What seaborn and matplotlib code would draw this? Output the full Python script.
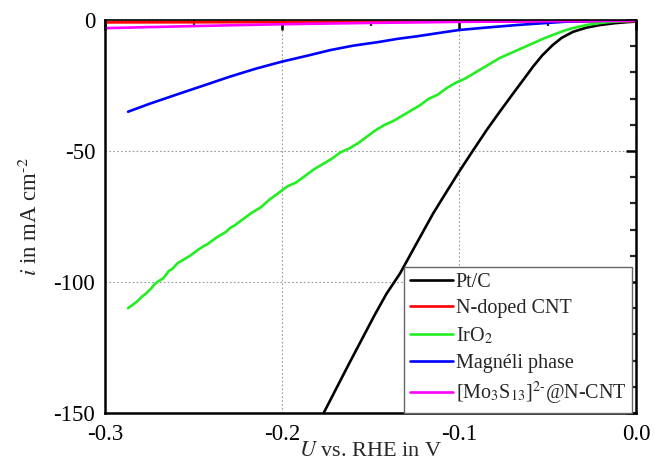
import numpy as np
import pandas as pd
import matplotlib
matplotlib.use("Agg")
import matplotlib.pyplot as plt
import seaborn as sns
from matplotlib.ticker import MultipleLocator
from matplotlib.lines import Line2D

# ---- data ----
labels = ["Pt/C", "N-doped CNT", "IrO$_2$", "Magnéli phase", "[Mo$_3$S$_{13}$]$^{2\\text{-}}$@N-CNT"]
colors = ["#000000", "#ff0000", "#22ee22", "#0000ff", "#ff00ff"]

ptc_u = [-0.178, -0.170, -0.162, -0.155, -0.148, -0.141, -0.1333, -0.125, -0.1146, -0.107,
         -0.0994, -0.092, -0.0844, -0.077, -0.0694, -0.063, -0.0582, -0.053, -0.047, -0.042,
         -0.0356, -0.028, -0.0203, -0.012, -0.005, 0.0]
ptc_i = [-152, -141.5, -131, -122, -113, -104.5, -96.7, -86.5, -73.8, -65.5,
         -57.3, -49.7, -42, -35, -28, -22.2, -17.8, -13.5, -9.5, -6.8,
         -4.5, -2.9, -1.9, -1.2, -0.8, -0.6]

ncnt_u = [-0.3, -0.2, -0.1, 0.0]
ncnt_i = [-0.9, -0.8, -0.6, -0.4]

iro2_u = [-0.287, -0.284, -0.282, -0.279, -0.277, -0.274, -0.272, -0.270, -0.267, -0.264,
          -0.262, -0.259, -0.257, -0.252, -0.247, -0.244, -0.242, -0.237, -0.232, -0.229,
          -0.227, -0.222, -0.217, -0.212, -0.207, -0.202, -0.197, -0.192, -0.187, -0.182,
          -0.177, -0.172, -0.167, -0.162, -0.157, -0.152, -0.147, -0.142, -0.137, -0.132,
          -0.127, -0.122, -0.117, -0.112, -0.107, -0.102, -0.097, -0.092, -0.087, -0.082,
          -0.077, -0.072, -0.067, -0.062, -0.057, -0.052, -0.047, -0.042, -0.037, -0.032,
          -0.027, -0.022, -0.017, -0.012, -0.007, 0.0]
iro2_i = [-110, -108.5, -107.5, -105.5, -104.5, -102.5, -100.8, -99.8, -98.5, -95.8,
          -95, -92.8, -92, -90, -87.5, -86.2, -85.5, -83, -81, -79.2,
          -78.5, -76, -73.5, -71.5, -68.5, -66, -63.5, -62, -59.5, -57,
          -55, -53, -50.5, -49, -47, -44.5, -42, -40, -38.5, -36.5,
          -34.5, -32.5, -30, -28.5, -26, -24, -22.5, -20.5, -18.5, -16.5,
          -14.5, -13, -11.5, -10, -8.5, -7, -5.7, -4.4, -3.3, -2.5,
          -1.8, -1.3, -0.9, -0.6, -0.4, -0.3]

magneli_u = [-0.287, -0.275, -0.2576, -0.243, -0.2294, -0.215, -0.2002, -0.185, -0.1729, -0.16,
             -0.1446, -0.135, -0.1237, -0.112, -0.1, -0.085, -0.0672, -0.05, -0.039, -0.02, 0.0]
magneli_i = [-35, -32, -28, -24.7, -21.6, -18.6, -15.9, -13.5, -11.5, -9.8,
             -8.3, -7.2, -6.2, -5.0, -3.8, -2.9, -1.9, -1.1, -0.6, -0.3, -0.2]

mo_u = [-0.3, -0.25, -0.2, -0.15, -0.1, -0.05, 0.0]
mo_i = [-3.1, -2.3, -1.6, -1.1, -0.7, -0.45, -0.3]

x_ticks = [-0.3, -0.2, -0.1, 0.0]
x_tick_labels = ["-0.3", "-0.2", "-0.1", "0.0"]
y_ticks = [-150, -100, -50, 0]
y_tick_labels = ["-150", "-100", "-50", "0"]

series = [(ptc_u, ptc_i), (ncnt_u, ncnt_i), (iro2_u, iro2_i), (magneli_u, magneli_i), (mo_u, mo_i)]
frames = []
for lab, (u, i) in zip(labels, series):
    frames.append(pd.DataFrame({"U": u, "i": i, "sample": lab}))
df = pd.concat(frames, ignore_index=True)

# ---- style ----
sns.set_theme(style="white")
plt.rcParams["font.family"] = ["Liberation Serif", "DejaVu Serif"]
plt.rcParams["mathtext.fontset"] = "stix"
plt.rcParams["axes.unicode_minus"] = False

fig = plt.figure(figsize=(6.54, 4.66), dpi=100)
ax = fig.add_axes([0.1606, 0.1137, 0.8119, 0.8433])

sns.lineplot(data=df, x="U", y="i", hue="sample", palette=dict(zip(labels, colors)),
             hue_order=labels, sort=False, estimator=None, linewidth=1.9, ax=ax, legend=False)

ax.set_xlim(-0.3, 0.0)
ax.set_ylim(-150, 0)
ax.set_xticks(x_ticks)
ax.set_xticklabels(x_tick_labels)
ax.set_yticks(y_ticks)
ax.set_yticklabels(y_tick_labels)
ax.xaxis.set_minor_locator(MultipleLocator(0.05))
ax.yaxis.set_minor_locator(MultipleLocator(10))

ax.grid(True, which="major", color="#999999", linestyle=(0, (1.5, 2)), linewidth=0.8)
for sp in ax.spines.values():
    sp.set_visible(True)
    sp.set_color("black")
    sp.set_linewidth(1.8)
ax.spines["top"].set_linewidth(1.2)

ax.tick_params(which="major", direction="in", length=7, width=1.8, top=True, right=True,
               labelsize=16.5, colors="black", pad=7)
ax.tick_params(which="minor", direction="in", length=4, width=1.6, top=True, right=True)
ax.tick_params(axis="x", which="major", pad=8)

ax.set_xlabel("$\\mathit{U}$ vs. RHE in V", fontsize=16, labelpad=-2)
ax.set_ylabel("$\\mathit{i}$ in mA cm$^{\\text{-}2}$", fontsize=16.5, labelpad=8)

handles = [Line2D([0], [0], color=c, linewidth=1.9) for c in colors]
leg = ax.legend(handles, labels, loc="lower right", bbox_to_anchor=(0.993, 0.0),
                fontsize=14.5, frameon=True, fancybox=False, framealpha=1,
                edgecolor="#666666", handlelength=2.15, handletextpad=0.12,
                labelspacing=0.36, borderpad=0.3, borderaxespad=0.0)
leg.get_frame().set_linewidth(1.0)

fig.savefig("out.png", dpi=100)
